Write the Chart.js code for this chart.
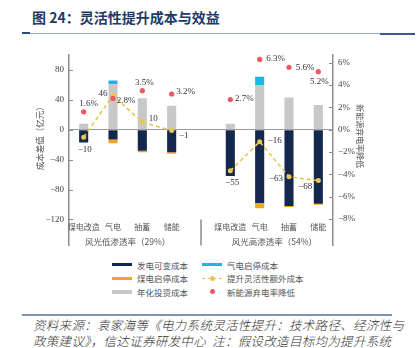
<!DOCTYPE html>
<html>
<head>
<meta charset="utf-8">
<script src="https://cdn.jsdelivr.net/npm/chart.js@4/dist/chart.umd.min.js"></script>
<style>
  body { margin: 0; width: 419px; height: 348px; background: #fff; position: relative; overflow: hidden;
         font-family: "Noto Sans CJK SC", sans-serif; }
  #title { position: absolute; left: 32px; top: 9px; font-size: 14px; line-height: 16px; font-weight: bold; color: #1f3a66; }
  .rule { position: absolute; }
  #wrap { position: absolute; left: 0; top: 40px; width: 419px; height: 216px; }
  #legend { position: absolute; left: 112px; top: 258px; display: grid; grid-auto-flow: column;
            grid-template-rows: repeat(3, 13.5px); grid-template-columns: 90px 120px;
            font-size: 8.5px; color: #555; }
  #legend .item { display: flex; align-items: center; }
  #legend .sw { width: 20px; height: 8px; margin-right: 5px; position: relative; }
  #note { position: absolute; left: 33px; top: 317px; font-style: italic; font-size: 12.5px; line-height: 16px;
          font-weight: 300; letter-spacing: 0.3px; color: #333; white-space: nowrap; }
</style>
</head>
<body>
<div id="title">图 24：灵活性提升成本与效益</div>
<div class="rule" style="left:22px;top:33px;width:358px;height:1px;background:#9eaec4"></div>
<div class="rule" style="left:22px;top:32px;width:8px;height:2px;background:#2d4a7a"></div>
<div class="rule" style="left:380px;top:33px;width:35px;height:2px;background:#3a5a8c"></div>
<div id="wrap"><canvas id="grafico"></canvas></div>
<div id="legend"></div>
<div class="rule" style="left:22px;top:314px;width:370px;height:1.5px;background:#7d93b5"></div>
<div id="note">资料来源：袁家海等《电力系统灵活性提升：技术路径、经济性与<br>政策建议》，信达证券研发中心&nbsp;&nbsp;注：假设改造目标均为提升系统</div>

<script>
// categorias (a posição vazia separa os dois grupos)
const categorias = ['煤电改造', '气电', '抽蓄', '储能', '', '煤电改造', '气电', '抽蓄', '储能'];
const grupos = ['风光低渗透率（29%）', '风光高渗透率（54%）'];

// valores (亿元)
const investimento = [8, 61, 42, 32, null, 8, 60, 43, 33];     // 年化投资成本
const partidaGas = [0, 5, 0, 0, null, 0, 11, 0, 0];             // 气电启停成本
const custoVariavel = [-17, -13, -28, -30, null, -62, -98, -102, -99]; // 发电可变成本
const partidaCarvao = [0, -5, -2, -2, null, 0, -7, -1.5, -1.5]; // 煤电启停成本
const custoExtra = [-10, 46, 10, -1, null, -55, -16, -63, -68];  // 提升灵活性额外成本
// queda da taxa de desperdício (%)
const quedaDesperdicio = [1.6, 2.8, 3.5, 3.2, null, 2.7, 6.3, 5.6, 5.2];

// rótulos dos eixos
const ticksEsq = [80, 40, 0, -40, -80, -120];
const ticksDir = [6, 4, 2, 0, -2, -4, -6, -8];

// deslocamento dos rótulos de valor (px)
const posRotuloExtra = [[1, 12], [-10, -2], [11, -4], [12, 5], null, [2, 12], [15, -1], [-13, 2], [-13, 6]];
const posRotuloQueda = [[5, -8], [13, 2], [2, -8], [14, -2], null, [14, -1], [16, -1], [16, 0], [1, 10]];

const cores = {
    variavel: '#13284c',
    carvao: '#f6a31e',
    gas: '#1db4e8',
    invest: '#c8c8c8',
    extra: '#e9c552',
    queda: '#ef5a5e'
};

const menos = v => String(v).replace('-', '\u2212');
const fonteSerif = '9px "Liberation Serif", serif';
const fonteCJK = '8.5px "Noto Sans CJK SC", sans-serif';

// plugin: marcas internas, separador, categorias, títulos e rótulos
const extras = {
    id: 'extras',
    afterDraw(chart) {
        const { ctx, chartArea, scales } = chart;
        const x = scales.x, y = scales.y, y1 = scales.y1;
        ctx.save();
        ctx.strokeStyle = '#8c8c8c';
        ctx.lineWidth = 1;
        ctx.beginPath();
        y.ticks.forEach(t => {
            const py = Math.round(y.getPixelForValue(t.value)) + 0.5;
            ctx.moveTo(chartArea.left, py); ctx.lineTo(chartArea.left + 4, py);
        });
        y1.ticks.forEach(t => {
            const py = Math.round(y1.getPixelForValue(t.value)) + 0.5;
            ctx.moveTo(chartArea.right - 4, py); ctx.lineTo(chartArea.right, py);
        });
        ctx.stroke();

        // separador entre os grupos
        const sx = x.getPixelForValue(4);
        const yBase = y.getPixelForValue(ticksEsq[ticksEsq.length - 1]);
        ctx.lineWidth = 1.5;
        ctx.beginPath();
        ctx.moveTo(sx, yBase); ctx.lineTo(sx, chartArea.bottom);
        ctx.stroke();

        // categorias e grupos
        ctx.fillStyle = '#555';
        ctx.font = '8px "Noto Sans CJK SC", sans-serif';
        ctx.textAlign = 'center';
        ctx.textBaseline = 'middle';
        categorias.forEach((c, i) => {
            if (c) ctx.fillText(c, x.getPixelForValue(i), yBase + 8);
        });
        ctx.font = fonteCJK;
        ctx.fillText(grupos[0], (x.getPixelForValue(0) + x.getPixelForValue(3)) / 2, yBase + 22);
        ctx.fillText(grupos[1], (x.getPixelForValue(5) + x.getPixelForValue(8)) / 2, yBase + 22);

        // títulos dos eixos
        const meio = (chartArea.top + chartArea.bottom) / 2 - 14;
        ctx.save();
        ctx.translate(chartArea.left - 29, meio);
        ctx.rotate(-Math.PI / 2);
        ctx.fillText('成本差值（亿元）', 0, 0);
        ctx.restore();
        ctx.save();
        ctx.translate(chartArea.right + 27, meio);
        ctx.rotate(Math.PI / 2);
        ctx.font = '8px "Noto Sans CJK SC", sans-serif';
        ctx.fillText('新能源弃电率降低', 0, 0);
        ctx.restore();

        // rótulos de valor
        ctx.font = fonteSerif;
        ctx.fillStyle = '#333';
        const metaExtra = chart.getDatasetMeta(4);
        metaExtra.data.forEach((p, i) => {
            if (custoExtra[i] === null) return;
            const d = posRotuloExtra[i];
            ctx.fillText(menos(custoExtra[i]), p.x + d[0], p.y + d[1]);
        });
        const metaQueda = chart.getDatasetMeta(5);
        metaQueda.data.forEach((p, i) => {
            if (quedaDesperdicio[i] === null) return;
            const d = posRotuloQueda[i];
            ctx.fillText(quedaDesperdicio[i].toFixed(1) + '%', p.x + d[0], p.y + d[1]);
        });
        ctx.restore();
    }
};

const barra = {
    type: 'bar', stack: 'custo', order: 2, yAxisID: 'y',
    barPercentage: 0.31, categoryPercentage: 1, borderWidth: 0
};

const grafico = new Chart(document.getElementById('grafico').getContext('2d'), {
    type: 'bar',
    data: {
        labels: categorias,
        datasets: [
            { ...barra, label: '年化投资成本', data: investimento, backgroundColor: cores.invest },
            { ...barra, label: '气电启停成本', data: partidaGas, backgroundColor: cores.gas },
            { ...barra, label: '发电可变成本', data: custoVariavel, backgroundColor: cores.variavel },
            { ...barra, label: '煤电启停成本', data: partidaCarvao, backgroundColor: cores.carvao },
            {
                type: 'line', label: '提升灵活性额外成本', data: custoExtra, stack: 'linha', order: 1, yAxisID: 'y',
                borderColor: cores.extra, borderDash: [4, 3], borderWidth: 1.6, spanGaps: false,
                pointRadius: 2.5, pointBorderWidth: 0, pointBackgroundColor: cores.extra
            },
            {
                type: 'line', label: '新能源弃电率降低', data: quedaDesperdicio, stack: 'pontos', order: 0, yAxisID: 'y1',
                showLine: false, pointRadius: 2.6, pointBorderWidth: 0, pointBackgroundColor: cores.queda,
                borderColor: cores.queda, backgroundColor: cores.queda
            }
        ]
    },
    options: {
        responsive: true,
        maintainAspectRatio: false,
        animation: false,
        layout: { padding: { top: 15, bottom: 6, left: 0, right: 0 } },
        plugins: { legend: { display: false }, tooltip: { enabled: false } },
        scales: {
            x: { stacked: true, display: false },
            y: {
                stacked: true, position: 'left', min: -155, max: 100,
                afterBuildTicks: ax => { ax.ticks = ticksEsq.map(v => ({ value: v })); },
                afterFit: ax => { ax.width = 69; },
                border: { display: true, color: '#8c8c8c', width: 1.5 },
                grid: { drawTicks: false, color: ctx => ctx.tick && ctx.tick.value === 0 ? '#9a9a9a' : 'rgba(0,0,0,0)' },
                ticks: { padding: 5, color: '#444', font: { family: '"Liberation Serif", serif', size: 9 }, callback: v => menos(v) }
            },
            y1: {
                position: 'right', min: -10.4, max: 6.7,
                afterBuildTicks: ax => { ax.ticks = ticksDir.map(v => ({ value: v })); },
                afterFit: ax => { ax.width = 86; },
                border: { display: true, color: '#8c8c8c', width: 1.5 },
                grid: { drawTicks: false, drawOnChartArea: false },
                ticks: { padding: 5, color: '#444', font: { family: '"Liberation Serif", serif', size: 9 }, callback: v => menos(v) + '%' }
            }
        }
    },
    plugins: [extras]
});

// legenda em duas colunas, montada a partir dos datasets
const ordemLegenda = [2, 3, 0, 1, 4, 5];
const legenda = document.getElementById('legend');
ordemLegenda.forEach(idx => {
    const ds = grafico.data.datasets[idx];
    const item = document.createElement('div');
    item.className = 'item';
    const sw = document.createElement('span');
    sw.className = 'sw';
    if (ds.type === 'bar') {
        const alt = idx === 0 ? 4 : 3;
        sw.innerHTML = `<span style="position:absolute;left:0;top:${(8 - alt) / 2}px;width:20px;height:${alt}px;background:${ds.backgroundColor}"></span>`;
    } else if (ds.showLine === false) {
        sw.innerHTML = `<span style="position:absolute;left:8px;top:1.5px;width:5px;height:5px;border-radius:50%;background:${ds.pointBackgroundColor}"></span>`;
    } else {
        sw.innerHTML = `<span style="position:absolute;left:0;top:3.5px;width:20px;border-top:1.5px dashed ${ds.borderColor}"></span>` +
            `<span style="position:absolute;left:8px;top:1.75px;width:5px;height:5px;border-radius:50%;background:${ds.borderColor}"></span>`;
    }
    item.appendChild(sw);
    item.appendChild(document.createTextNode(ds.label));
    legenda.appendChild(item);
});
</script>
</body>
</html>
